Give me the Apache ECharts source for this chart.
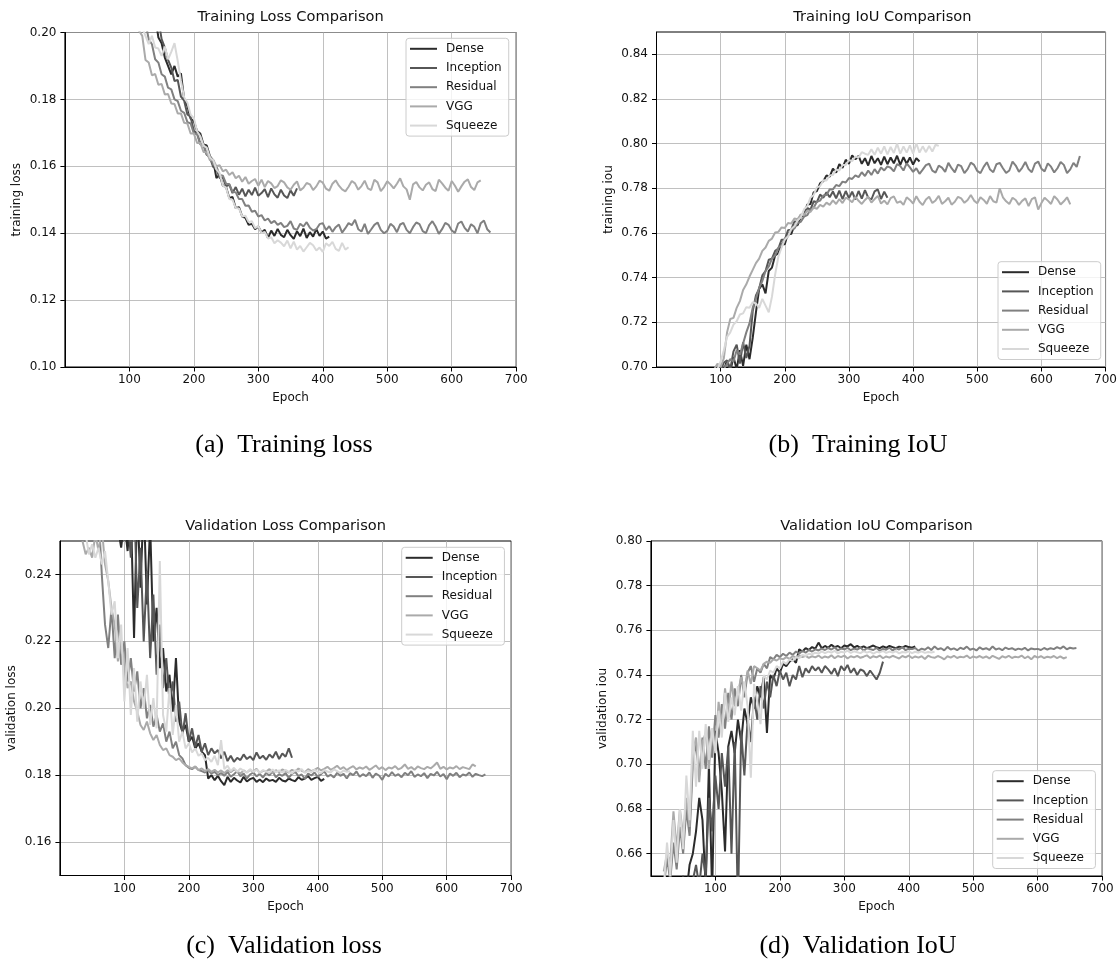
<!DOCTYPE html>
<html><head><meta charset="utf-8">
<script src="https://cdn.jsdelivr.net/npm/echarts@6/dist/echarts.min.js"></script>
<style>html,body{margin:0;padding:0;background:#fff}#c{width:1120px;height:967px}</style>
</head><body><div id="c"></div>
<script>
const STEP = 5;
const models = ['Dense', 'Inception', 'Residual', 'VGG', 'Squeeze'];
const colors = ['#2b2b2b', '#565656', '#808080', '#aaaaaa', '#d8d8d8'];
const xTicks = [100, 200, 300, 400, 500, 600, 700];
const yTicksA = [0.10, 0.12, 0.14, 0.16, 0.18, 0.20];
const yTicksB = [0.70, 0.72, 0.74, 0.76, 0.78, 0.80, 0.82, 0.84];
const yTicksC = [0.16, 0.18, 0.20, 0.22, 0.24];
const yTicksD = [0.66, 0.68, 0.70, 0.72, 0.74, 0.76, 0.78, 0.80];
const titles = ['Training Loss Comparison', 'Training IoU Comparison', 'Validation Loss Comparison', 'Validation IoU Comparison'];
const yNames = ['training loss', 'training iou', 'validation loss', 'validation iou'];
const captions = ['(a)  Training loss', '(b)  Training IoU', '(c)  Validation loss', '(d)  Validation IoU'];

// ---- (a) training loss, one value every 5 epochs from the start epoch ----
const tlDenseStart = 140;
const tlDense = [
.2050,.1985,.1968,.1925,.1900,.1875,.1900,.1868,.1878,.1800,
.1780,.1742,.1735,.1705,.1698,.1665,.1662,.1630,.1618,.1565,
.1575,.1542,.1538,.1505,.1508,.1475,.1478,.1450,.1446,.1425,
.1428,.1412,.1420,.1402,.1410,.1385,.1408,.1392,.1413,.1395,
.1388,.1410,.1394,.1383,.1406,.1391,.1414,.1386,.1403,.1390,
.1412,.1392,.1405,.1384,.1390];
const tlInceptionStart = 145;
const tlInception = [
.2040,.1980,.1955,.1918,.1895,.1855,.1858,.1808,.1796,.1755,
.1748,.1705,.1700,.1668,.1665,.1635,.1626,.1598,.1592,.1565,
.1566,.1540,.1545,.1520,.1538,.1515,.1533,.1510,.1530,.1514,
.1536,.1512,.1520,.1532,.1508,.1534,.1516,.1506,.1530,.1513,
.1505,.1528,.1512,.1534];
const tlResidualStart = 125;
const tlResidual = [
.2030,.1980,.1965,.1920,.1910,.1875,.1868,.1835,.1830,.1800,
.1795,.1766,.1760,.1732,.1728,.1698,.1696,.1665,.1665,.1634,
.1630,.1605,.1600,.1574,.1572,.1548,.1547,.1524,.1522,.1502,
.1502,.1482,.1483,.1464,.1467,.1450,.1454,.1438,.1444,.1430,
.1437,.1425,.1431,.1418,.1422,.1436,.1414,.1410,.1428,.1420,
.1433,.1416,.1408,.1412,.1427,.1430,.1409,.1421,.1404,.1418,
.1426,.1402,.1415,.1430,.1424,.1440,.1412,.1405,.1428,.1398,
.1411,.1425,.1432,.1410,.1400,.1407,.1428,.1420,.1403,.1426,
.1431,.1410,.1400,.1418,.1432,.1427,.1406,.1400,.1424,.1436,
.1420,.1398,.1412,.1431,.1425,.1408,.1401,.1429,.1435,.1416,
.1405,.1427,.1419,.1400,.1430,.1438,.1412,.1402];
const tlVggStart = 110;
const tlVgg = [
.2060,.2005,.1990,.1918,.1910,.1872,.1876,.1844,.1846,.1815,
.1816,.1788,.1786,.1758,.1758,.1730,.1728,.1698,.1698,.1670,
.1670,.1643,.1642,.1618,.1620,.1600,.1603,.1585,.1590,.1574,
.1582,.1564,.1572,.1554,.1568,.1548,.1556,.1562,.1542,.1560,
.1538,.1556,.1549,.1535,.1541,.1558,.1552,.1537,.1530,.1545,
.1555,.1528,.1536,.1550,.1546,.1529,.1540,.1557,.1551,.1533,
.1527,.1548,.1558,.1542,.1531,.1525,.1539,.1556,.1549,.1530,
.1541,.1557,.1534,.1529,.1560,.1552,.1526,.1538,.1555,.1546,
.1534,.1548,.1564,.1540,.1531,.1500,.1546,.1553,.1537,.1528,
.1545,.1552,.1532,.1526,.1560,.1549,.1536,.1527,.1556,.1542,
.1524,.1540,.1554,.1561,.1538,.1529,.1552,.1558];
const tlSqueezeStart = 115;
const tlSqueeze = [
.2060,.2015,.1990,.1965,.1990,.1955,.1952,.1930,.1958,.1920,
.1942,.1968,.1915,.1855,.1806,.1790,.1754,.1744,.1705,.1690,
.1662,.1656,.1626,.1618,.1590,.1580,.1542,.1536,.1502,.1500,
.1475,.1474,.1450,.1452,.1433,.1436,.1415,.1421,.1400,.1404,
.1384,.1388,.1370,.1379,.1372,.1361,.1378,.1355,.1375,.1351,
.1362,.1345,.1358,.1371,.1364,.1348,.1357,.1344,.1370,.1362,
.1374,.1353,.1347,.1371,.1351,.1358];

// ---- (b) training IoU ----
const tiDenseStart = 95;
const tiDense = [
.6980,.7005,.6985,.7030,.6980,.7045,.6990,.7075,.7005,.7100,
.7035,.7130,.7245,.7350,.7370,.7330,.7430,.7445,.7500,.7510,
.7550,.7550,.7600,.7595,.7635,.7635,.7672,.7680,.7728,.7730,
.7782,.7788,.7822,.7832,.7858,.7852,.7888,.7870,.7908,.7892,
.7928,.7910,.7948,.7930,.7945,.7910,.7935,.7902,.7945,.7912,
.7935,.7905,.7942,.7908,.7938,.7912,.7946,.7905,.7940,.7910,
.7938,.7906,.7935,.7920];
const tiInceptionStart = 100;
const tiInception = [
.6985,.7020,.7030,.6990,.7070,.7100,.7015,.7110,.7040,.7095,
.7250,.7320,.7350,.7410,.7430,.7480,.7485,.7520,.7530,.7570,
.7570,.7612,.7615,.7652,.7650,.7682,.7678,.7712,.7705,.7742,
.7738,.7772,.7758,.7782,.7760,.7786,.7755,.7790,.7752,.7788,
.7756,.7785,.7750,.7788,.7754,.7792,.7758,.7750,.7786,.7795,
.7752,.7785,.7758];
const tiResidualStart = 105;
const tiResidual = [
.6990,.7015,.7035,.7025,.7075,.7055,.7105,.7155,.7195,.7265,
.7305,.7355,.7385,.7430,.7450,.7485,.7500,.7535,.7545,.7575,
.7585,.7615,.7620,.7645,.7650,.7673,.7680,.7705,.7713,.7740,
.7745,.7768,.7770,.7796,.7795,.7815,.7810,.7830,.7826,.7846,
.7842,.7858,.7850,.7872,.7855,.7880,.7860,.7886,.7866,.7893,
.7880,.7898,.7892,.7876,.7908,.7900,.7880,.7912,.7894,.7874,
.7890,.7865,.7884,.7904,.7910,.7879,.7870,.7902,.7893,.7874,
.7914,.7890,.7872,.7906,.7899,.7868,.7886,.7915,.7905,.7878,
.7868,.7896,.7917,.7884,.7872,.7908,.7914,.7890,.7869,.7880,
.7920,.7902,.7874,.7892,.7918,.7886,.7872,.7911,.7920,.7888,
.7876,.7912,.7897,.7871,.7890,.7918,.7905,.7868,.7885,.7914,
.7896,.7945];
const tiVggStart = 90;
const tiVgg = [
.6990,.7015,.7000,.7040,.7155,.7215,.7220,.7265,.7295,.7345,
.7370,.7405,.7435,.7465,.7485,.7520,.7535,.7565,.7575,.7602,
.7605,.7625,.7622,.7645,.7642,.7665,.7662,.7683,.7680,.7700,
.7694,.7714,.7708,.7726,.7718,.7736,.7726,.7746,.7730,.7752,
.7734,.7758,.7750,.7738,.7762,.7744,.7730,.7748,.7762,.7736,
.7752,.7766,.7732,.7745,.7728,.7756,.7764,.7735,.7742,.7726,
.7760,.7748,.7732,.7765,.7740,.7725,.7750,.7762,.7734,.7746,
.7766,.7730,.7742,.7758,.7727,.7740,.7762,.7755,.7735,.7748,
.7770,.7745,.7733,.7760,.7748,.7731,.7765,.7742,.7736,.7800,
.7760,.7742,.7730,.7758,.7748,.7726,.7744,.7755,.7720,.7752,
.7760,.7705,.7734,.7758,.7745,.7730,.7765,.7750,.7728,.7742,
.7760,.7728];
const tiSqueezeStart = 95;
const tiSqueeze = [
.6990,.7025,.7075,.7135,.7155,.7190,.7205,.7235,.7240,.7268,
.7265,.7290,.7285,.7265,.7305,.7275,.7245,.7315,.7415,.7495,
.7535,.7570,.7585,.7618,.7630,.7656,.7670,.7706,.7720,.7758,
.7770,.7804,.7810,.7836,.7835,.7858,.7860,.7884,.7880,.7904,
.7905,.7926,.7922,.7942,.7938,.7962,.7955,.7950,.7975,.7950,
.7982,.7955,.7988,.7952,.7985,.7958,.8000,.7955,.7988,.7960,
.7992,.7955,.8002,.7960,.7988,.7962,.7990,.7965,.7995,.7990];

// ---- (c) validation loss ----
const vlDenseStart = 60;
const vlDense = [
.2600,.2550,.2620,.2580,.2520,.2650,.2540,.2480,.2560,.2470,
.2600,.2210,.2620,.2360,.2620,.2310,.2550,.2200,.2300,.2120,
.2180,.2050,.2100,.1990,.2150,.1960,.1930,.1950,.1900,.1915,
.1880,.1895,.1870,.1860,.1790,.1800,.1785,.1798,.1782,.1770,
.1795,.1780,.1792,.1784,.1778,.1795,.1781,.1788,.1792,.1780,
.1787,.1779,.1790,.1783,.1786,.1780,.1792,.1784,.1781,.1790,
.1785,.1782,.1794,.1786,.1790,.1797,.1786,.1791,.1795,.1783,
.1789];
const vlInceptionStart = 70;
const vlInception = [
.2650,.2600,.2580,.2680,.2550,.2620,.2500,.2580,.2450,.2650,
.2300,.2480,.2200,.2410,.2150,.2340,.2100,.2250,.2060,.2150,
.2020,.2080,.1960,.2020,.1920,.1985,.1900,.1940,.1885,.1920,
.1870,.1895,.1860,.1880,.1865,.1875,.1850,.1870,.1842,.1858,
.1840,.1852,.1845,.1862,.1848,.1856,.1845,.1868,.1850,.1858,
.1846,.1862,.1852,.1870,.1848,.1865,.1855,.1880,.1852];
const vlResidualStart = 55;
const vlResidual = [
.2620,.2580,.2400,.2250,.2180,.2300,.2150,.2280,.2130,.2200,
.2080,.2150,.2050,.2110,.2000,.2060,.1970,.2010,.1945,.1980,
.1930,.1955,.1900,.1930,.1880,.1900,.1860,.1850,.1830,.1822,
.1818,.1825,.1815,.1812,.1808,.1815,.1805,.1810,.1800,.1806,
.1798,.1810,.1795,.1803,.1812,.1797,.1805,.1790,.1802,.1808,
.1796,.1804,.1793,.1807,.1799,.1811,.1794,.1803,.1798,.1806,
.1792,.1804,.1810,.1797,.1802,.1789,.1805,.1799,.1808,.1795,
.1803,.1812,.1796,.1801,.1793,.1807,.1798,.1804,.1790,.1806,
.1800,.1811,.1795,.1803,.1797,.1808,.1792,.1805,.1799,.1786,
.1804,.1796,.1809,.1798,.1803,.1794,.1807,.1800,.1812,.1795,
.1802,.1797,.1806,.1791,.1804,.1799,.1810,.1796,.1803,.1788,
.1805,.1798,.1807,.1794,.1802,.1799,.1808,.1795,.1804,.1800,
.1797,.1802];
const vlVggStart = 35;
const vlVgg = [
.2500,.2460,.2480,.2450,.2520,.2470,.2540,.2430,.2380,.2300,
.2250,.2140,.2200,.2120,.2060,.2080,.2020,.1990,.1950,.1935,
.1960,.1925,.1905,.1920,.1890,.1875,.1880,.1860,.1855,.1845,
.1850,.1838,.1830,.1825,.1820,.1826,.1815,.1820,.1812,.1818,
.1810,.1816,.1808,.1814,.1806,.1815,.1809,.1817,.1811,.1805,
.1814,.1808,.1816,.1810,.1819,.1807,.1813,.1811,.1818,.1806,
.1815,.1809,.1817,.1812,.1808,.1816,.1811,.1820,.1813,.1809,
.1818,.1812,.1816,.1822,.1814,.1819,.1825,.1816,.1821,.1828,
.1818,.1824,.1815,.1822,.1827,.1817,.1823,.1819,.1826,.1816,
.1822,.1829,.1818,.1824,.1815,.1823,.1820,.1827,.1817,.1822,
.1832,.1819,.1824,.1816,.1826,.1821,.1818,.1825,.1820,.1828,
.1838,.1819,.1825,.1817,.1823,.1820,.1827,.1818,.1824,.1821,
.1818,.1832,.1826];
const vlSqueezeStart = 40;
const vlSqueeze = [
.2520,.2460,.2490,.2450,.2480,.2430,.2470,.2380,.2280,.2320,
.2150,.2250,.2020,.2180,.1980,.2120,.1960,.2080,.2000,.2100,
.1950,.2030,.1940,.2440,.1980,.1930,.2060,.1920,.2010,.1900,
.1930,.1880,.1895,.1868,.1880,.1858,.1865,.1845,.1852,.1840,
.1858,.1830,.1905,.1818,.1828,.1812,.1822,.1810,.1820,.1813,
.1808,.1818,.1810,.1816,.1807,.1815,.1811,.1806,.1817,.1809,
.1814,.1808,.1816,.1810,.1805,.1815,.1811,.1818,.1807,.1813,
.1809,.1816,.1810,.1806,.1815,.1811,.1808,.1817,.1812,.1806,
.1814,.1810,.1812];

// ---- (d) validation IoU ----
const viDenseStart = 40;
const viDense = [
.6400,.6450,.6500,.6420,.6550,.6600,.6700,.6850,.6750,.6450,
.7000,.6420,.7150,.7050,.6880,.6610,.7080,.7150,.7050,.7200,
.7100,.7250,.7180,.7300,.7250,.7350,.7300,.7390,.7140,.7400,
.7380,.7430,.7410,.7450,.7440,.7460,.7470,.7455,.7515,.7505,
.7520,.7512,.7525,.7518,.7545,.7520,.7530,.7522,.7535,.7525,
.7530,.7520,.7532,.7528,.7538,.7524,.7530,.7522,.7528,.7520,
.7526,.7532,.7524,.7520,.7528,.7522,.7530,.7525,.7520,.7527,
.7523,.7530,.7525,.7522,.7528];
const viInceptionStart = 60;
const viInception = [
.6400,.6480,.6550,.6450,.6600,.6500,.6850,.6700,.6950,.6800,
.7050,.6900,.7080,.6600,.7100,.6350,.7150,.6950,.7200,.7100,
.7300,.7200,.7350,.7250,.7370,.7300,.7400,.7350,.7420,.7380,
.7410,.7350,.7400,.7380,.7440,.7390,.7430,.7410,.7440,.7420,
.7435,.7410,.7440,.7425,.7405,.7430,.7395,.7440,.7420,.7445,
.7410,.7430,.7400,.7425,.7418,.7395,.7420,.7400,.7380,.7410,
.7460];
const viResidualStart = 20;
const viResidual = [
.6450,.6580,.6480,.6650,.6530,.6720,.6600,.6800,.6680,.7000,
.7100,.6950,.7120,.6980,.7170,.7030,.7220,.7120,.7270,.7160,
.7320,.7200,.7340,.7260,.7400,.7300,.7410,.7440,.7370,.7430,
.7410,.7450,.7430,.7480,.7470,.7490,.7480,.7495,.7485,.7500,
.7490,.7505,.7495,.7508,.7500,.7512,.7505,.7515,.7510,.7518,
.7512,.7521,.7514,.7524,.7510,.7519,.7515,.7522,.7511,.7518,
.7514,.7523,.7509,.7520,.7516,.7512,.7521,.7508,.7517,.7513,
.7522,.7510,.7519,.7514,.7525,.7511,.7518,.7516,.7521,.7509,
.7518,.7513,.7524,.7512,.7528,.7515,.7520,.7510,.7526,.7514,
.7519,.7511,.7522,.7516,.7527,.7513,.7518,.7510,.7524,.7515,
.7520,.7512,.7528,.7514,.7519,.7511,.7523,.7516,.7520,.7512,
.7518,.7514,.7522,.7510,.7519,.7515,.7517,.7512,.7521,.7514,
.7520,.7516,.7525,.7518,.7528,.7515,.7522,.7519,.7521];
const viVggStart = 20;
const viVgg = [
.6520,.6600,.6560,.6790,.6620,.6800,.6680,.6850,.6720,.7050,
.7120,.6920,.7100,.7140,.6980,.7160,.7060,.7280,.7160,.7340,
.7220,.7370,.7260,.7320,.7390,.7330,.7420,.7360,.7440,.7430,
.7420,.7450,.7460,.7455,.7470,.7465,.7475,.7470,.7480,.7472,
.7485,.7478,.7488,.7480,.7486,.7477,.7484,.7479,.7487,.7476,
.7483,.7478,.7488,.7475,.7485,.7480,.7487,.7474,.7484,.7479,
.7486,.7477,.7482,.7488,.7476,.7484,.7479,.7487,.7475,.7483,
.7478,.7486,.7480,.7474,.7485,.7479,.7487,.7476,.7483,.7478,
.7484,.7472,.7486,.7480,.7477,.7485,.7479,.7470,.7484,.7478,
.7486,.7476,.7482,.7479,.7487,.7475,.7483,.7478,.7485,.7477,
.7483,.7474,.7486,.7479,.7472,.7484,.7478,.7486,.7476,.7482,
.7479,.7487,.7475,.7483,.7470,.7485,.7478,.7484,.7476,.7482,
.7478,.7485,.7476,.7483,.7474,.7480];
const viSqueezeStart = 20;
const viSqueeze = [
.6450,.6650,.6500,.6750,.6560,.6800,.6620,.6950,.6750,.7150,
.6900,.7150,.6980,.7180,.7020,.7160,.7050,.7240,.7120,.7320,
.7190,.7300,.7220,.7350,.7240,.7370,.7260,.6940,.7360,.7280,
.7180,.7400,.7380,.7420,.7410,.7440,.7430,.7460,.7450,.7470,
.7462,.7480,.7475,.7490,.7485,.7495,.7492,.7500,.7496,.7506,
.7498,.7505,.7500,.7508,.7497,.7504,.7501,.7509,.7499,.7506,
.7502,.7498,.7507,.7500,.7505,.7496,.7504,.7501,.7508,.7499,
.7505,.7500,.7507,.7497,.7503,.7501,.7506,.7498,.7504,.7500,
.7506,.7499,.7503,.7501,.7504];

// ---------------- build options ----------------
const FONT = "'DejaVu Sans', sans-serif";
const panelSeries = [
  [[tlDenseStart, tlDense], [tlInceptionStart, tlInception], [tlResidualStart, tlResidual], [tlVggStart, tlVgg], [tlSqueezeStart, tlSqueeze]],
  [[tiDenseStart, tiDense], [tiInceptionStart, tiInception], [tiResidualStart, tiResidual], [tiVggStart, tiVgg], [tiSqueezeStart, tiSqueeze]],
  [[vlDenseStart, vlDense], [vlInceptionStart, vlInception], [vlResidualStart, vlResidual], [vlVggStart, vlVgg], [vlSqueezeStart, vlSqueeze]],
  [[viDenseStart, viDense], [viInceptionStart, viInception], [viResidualStart, viResidual], [viVggStart, viVgg], [viSqueezeStart, viSqueeze]]
];
const yRanges = [[0.10, 0.20], [0.70, 0.85], [0.15, 0.25], [0.65, 0.80]];
const yTicks = [yTicksA, yTicksB, yTicksC, yTicksD];

const grids = [
  {left: 64.9, top: 32.5, width: 451.3, height: 334.5},
  {left: 656.5, top: 32, width: 451.7, height: 335},
  {left: 59.9, top: 541, width: 451.3, height: 334.5},
  {left: 650.9, top: 541, width: 451.3, height: 335}
];
const legendPos = [[406, 38.3], [998, 261.7], [401.7, 547.3], [992.7, 770.7]];
const captionPos = [[284, 445], [858, 445], [284, 946], [858, 946]];

function pts(start, vals) { return vals.map((v, i) => [start + i * STEP, v]); }

const option = {
  animation: false,
  backgroundColor: '#ffffff',
  grid: grids.map(g => Object.assign({show: true, borderColor: '#000', borderWidth: 1, backgroundColor: 'transparent', containLabel: false}, g)),
  xAxis: grids.map((g, i) => ({
    type: 'value', gridIndex: i, min: 0, max: 700,
    name: 'Epoch', nameLocation: 'middle', nameGap: 25,
    nameTextStyle: {fontSize: 12, color: '#111', fontFamily: FONT},
    axisLine: {show: true, onZero: false, lineStyle: {color: '#000', width: 1}},
    axisTick: {show: true, length: 4.5, lineStyle: {color: '#000', width: 1}, customValues: xTicks},
    axisLabel: {customValues: xTicks, margin: 7, fontSize: 12, color: '#111', fontFamily: FONT},
    splitLine: {show: true, lineStyle: {color: '#b0b0b0', width: 0.8}}
  })),
  yAxis: grids.map((g, i) => ({
    type: 'value', gridIndex: i, min: yRanges[i][0], max: yRanges[i][1],
    name: yNames[i], nameLocation: 'middle', nameGap: 42,
    nameTextStyle: {fontSize: 12, color: '#111', fontFamily: FONT},
    axisLine: {show: true, onZero: false, lineStyle: {color: '#000', width: 1}},
    axisTick: {show: true, length: 4.5, lineStyle: {color: '#000', width: 1}, customValues: yTicks[i]},
    axisLabel: {customValues: yTicks[i], margin: 8.5, fontSize: 12, color: '#111', fontFamily: FONT,
      formatter: v => Number(v).toFixed(2)},
    splitLine: {show: true, lineStyle: {color: '#b0b0b0', width: 0.8}}
  })),
  legend: legendPos.map(p => ({
    orient: 'vertical', left: p[0], top: p[1], data: models, icon: 'rect',
    itemWidth: 27, itemHeight: 2, itemGap: 5.2, selectedMode: false,
    padding: [3.5, 7, 3.5, 4],
    backgroundColor: 'rgba(255,255,255,0.8)', borderColor: '#cccccc', borderWidth: 1, borderRadius: 3,
    textStyle: {fontSize: 12, color: '#111', fontFamily: FONT, lineHeight: 14, padding: [0, 0, 0, 4]}
  })),
  graphic: [
    ...titles.map((t, i) => ({
      type: 'text', x: grids[i].left + grids[i].width / 2, y: (i < 2 ? 17.3 : 526.7), silent: true,
      style: {text: t, fontSize: 14.6, fontFamily: FONT, fill: '#111',
        align: 'center', verticalAlign: 'middle', textAlign: 'center', textVerticalAlign: 'middle'}
    })),
    ...captions.map((t, i) => ({
      type: 'text', x: captionPos[i][0], y: captionPos[i][1], silent: true,
      style: {text: t, fontSize: 26, fontFamily: "'Liberation Serif', serif", fill: '#000',
        align: 'center', verticalAlign: 'middle', textAlign: 'center', textVerticalAlign: 'middle'}
    }))
  ],
  series: []
};

panelSeries.forEach((list, gi) => {
  list.forEach((s, k) => {
    option.series.push({
      type: 'line', name: models[k], xAxisIndex: gi, yAxisIndex: gi,
      data: pts(s[0], s[1]), showSymbol: false, symbol: 'none', clip: true,
      lineStyle: {width: 2, color: colors[k]}, itemStyle: {color: colors[k]},
      emphasis: {disabled: true}, silent: true
    });
  });
});

const chart = echarts.init(document.getElementById('c'), null, {renderer: 'canvas'});
chart.setOption(option);
</script>
</body></html>
